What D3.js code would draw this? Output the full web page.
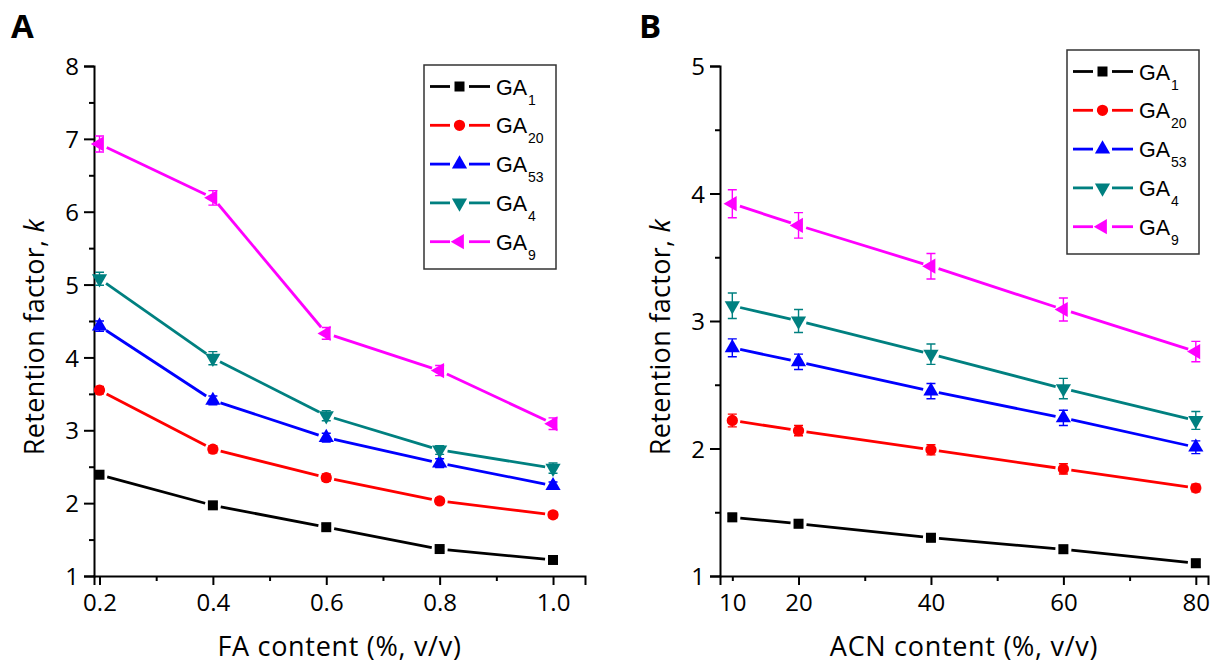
<!DOCTYPE html>
<html>
<head>
<meta charset="utf-8">
<script src="https://cdn.jsdelivr.net/npm/d3@7"></script>
<style>
body { margin: 0; background: #fff; }
svg { display: block; }
</style>
</head>
<body>
<div id="chart"></div>
<script>
// categories
var faContent = [0.2, 0.4, 0.6, 0.8, 1.0]
var acnContent = [10, 20, 40, 60, 80]
var gaSubs = ["1", "20", "53", "4", "9"]
var colors = ["#000000", "#ff0000", "#0000ff", "#008080", "#ff00ff"]
var shapes = ["square", "circle", "up", "down", "left"]

// panel A values (retention factor k vs FA content)
var faGA1 = [2.39, 1.97, 1.67, 1.37, 1.22]
var faGA20 = [3.55, 2.74, 2.35, 2.03, 1.84]
var faGA53 = [4.43, 3.41, 2.90, 2.55, 2.24]
var faGA4 = [5.08, 3.99, 3.20, 2.73, 2.48]
var faGA9 = [6.93, 6.19, 4.33, 3.82, 3.09]
var faErr1 = [0.04, 0.04, 0.04, 0.03, 0.03]
var faErr20 = [0.05, 0.05, 0.05, 0.04, 0.04]
var faErr53 = [0.07, 0.06, 0.06, 0.06, 0.05]
var faErr4 = [0.09, 0.09, 0.07, 0.06, 0.07]
var faErr9 = [0.11, 0.10, 0.08, 0.07, 0.08]

// panel B values (retention factor k vs ACN content)
var acnGA1 = [1.46, 1.41, 1.30, 1.21, 1.10]
var acnGA20 = [2.22, 2.14, 1.99, 1.84, 1.69]
var acnGA53 = [2.79, 2.68, 2.45, 2.24, 2.01]
var acnGA4 = [3.12, 3.00, 2.74, 2.47, 2.22]
var acnGA9 = [3.92, 3.75, 3.43, 3.09, 2.76]
var acnErr1 = [0.03, 0.03, 0.03, 0.03, 0.03]
var acnErr20 = [0.05, 0.04, 0.04, 0.04, 0.03]
var acnErr53 = [0.07, 0.06, 0.06, 0.06, 0.05]
var acnErr4 = [0.10, 0.09, 0.08, 0.08, 0.07]
var acnErr9 = [0.11, 0.10, 0.10, 0.09, 0.08]

// tick labels
var faMajor = [0.2, 0.4, 0.6, 0.8, 1.0]
var faMinor = [0.3, 0.5, 0.7, 0.9]
var faLabels = ["0.2", "0.4", "0.6", "0.8", "1.0"]
var acnMajor = [20, 40, 60, 80]
var acnMinor = [10, 30, 50, 70]
var acnLabels = ["10", "20", "40", "60", "80"]
var kMajorA = [1, 2, 3, 4, 5, 6, 7, 8]
var kMinorA = [1.5, 2.5, 3.5, 4.5, 5.5, 6.5, 7.5]
var kMajorB = [1, 2, 3, 4, 5]
var kMinorB = [1.5, 2.5, 3.5, 4.5]

var width = 1210
var height = 666
var tickFont = "'Open Sans', 'Segoe UI', sans-serif"
var legendFont = "'Liberation Sans', Arial, sans-serif"

var svg = d3.select("#chart").append("svg")
    .attr("width", width)
    .attr("height", height)

function symbolPath(shape) {
    var s = d3.symbol()
    if (shape == "square") return s.type(d3.symbolSquare).size(100)()
    if (shape == "circle") return s.type(d3.symbolCircle).size(100)()
    return s.type(d3.symbolTriangle).size(100)()
}
function symbolRotate(shape) {
    if (shape == "down") return 180
    if (shape == "left") return -90
    return 0
}

function drawMarker(g, shape, color, cx, cy) {
    g.append("path")
        .attr("d", symbolPath(shape))
        .attr("transform", "translate(" + cx + "," + cy + ") rotate(" + symbolRotate(shape) + ")")
        .attr("fill", color)
}

function makePanel(p) {
    var x = d3.scaleLinear().domain(p.xDomain).range([p.left, p.right])
    var y = d3.scaleLinear().domain(p.yDomain).range([p.bottom, p.top])
    var g = svg.append("g")

    // x axis
    var xTicks = p.xMajor.concat(p.xMinor).sort(d3.ascending)
    var xAxis = g.append("g")
        .attr("transform", "translate(0," + p.bottom + ")")
        .call(d3.axisBottom(x).tickValues(xTicks).tickSizeOuter(0).tickSize(9).tickPadding(9)
            .tickFormat(function(d) {
                var i = p.xLabelValues.indexOf(d)
                return i >= 0 ? p.xLabels[i] : ""
            }))
    xAxis.selectAll(".tick line").attr("y2", function(d) { return p.xMajor.indexOf(d) >= 0 ? 9 : 5 })

    // y axis
    var yTicks = p.yMajor.concat(p.yMinor).sort(d3.ascending)
    var yAxis = g.append("g")
        .attr("transform", "translate(" + p.left + ",0)")
        .call(d3.axisLeft(y).tickValues(yTicks).tickSizeOuter(0).tickSize(10).tickPadding(5)
            .tickFormat(function(d) { return p.yMajor.indexOf(d) >= 0 ? d : "" }))
    yAxis.selectAll(".tick line").attr("x2", function(d) { return p.yMajor.indexOf(d) >= 0 ? -10 : -5 })

    g.selectAll(".domain, .tick line").attr("stroke", "#000").attr("stroke-width", 2)
    g.selectAll(".tick text").attr("font-family", tickFont).attr("font-size", 24).attr("fill", "#000")
    yAxis.selectAll(".tick text").attr("dy", "0.36em")

    // titles
    g.append("text")
        .attr("x", (p.left + p.right) / 2)
        .attr("y", 656)
        .attr("text-anchor", "middle")
        .attr("font-family", tickFont)
        .attr("font-size", 27)
        .attr("letter-spacing", 0.7)
        .text(p.xTitle)
    var yt = g.append("text")
        .attr("transform", "translate(" + (p.left - 50) + ",337) rotate(-90)")
        .attr("text-anchor", "middle")
        .attr("font-family", tickFont)
        .attr("font-size", 27)
        .attr("letter-spacing", 0.3)
    yt.append("tspan").text("Retention factor, ")
    yt.append("tspan").attr("font-style", "italic").text("k")

    g.append("text")
        .attr("x", p.letterX)
        .attr("y", 38)
        .attr("font-family", tickFont)
        .attr("font-weight", "bold")
        .attr("font-size", 33)
        .text(p.letter)

    // series
    p.series.forEach(function(vals, si) {
        var color = colors[si]
        var errs = p.errors[si]
        var pts = p.xValues.map(function(d, i) { return [x(d), y(vals[i])] })
        var gap = 8
        for (var i = 0; i < pts.length - 1; i++) {
            var dx = pts[i + 1][0] - pts[i][0]
            var dy = pts[i + 1][1] - pts[i][1]
            var len = Math.sqrt(dx * dx + dy * dy)
            var ux = dx / len, uy = dy / len
            g.append("line")
                .attr("x1", pts[i][0] + ux * gap)
                .attr("y1", pts[i][1] + uy * gap)
                .attr("x2", pts[i + 1][0] - ux * gap)
                .attr("y2", pts[i + 1][1] - uy * gap)
                .attr("stroke", color)
                .attr("stroke-width", 2.8)
        }
        pts.forEach(function(pt, i) {
            var yTop = y(vals[i] + errs[i])
            var yBot = y(vals[i] - errs[i])
            g.append("path")
                .attr("d", "M" + pt[0] + "," + yTop + "V" + yBot +
                    "M" + (pt[0] - 4.5) + "," + yTop + "H" + (pt[0] + 4.5) +
                    "M" + (pt[0] - 4.5) + "," + yBot + "H" + (pt[0] + 4.5))
                .attr("stroke", color)
                .attr("stroke-width", 1.4)
                .attr("fill", "none")
            drawMarker(g, shapes[si], color, pt[0], pt[1])
        })
    })

    // legend
    var lg = g.append("g").attr("transform", "translate(" + p.legendX + "," + p.legendY + ")")
    lg.append("rect")
        .attr("width", 132).attr("height", 204)
        .attr("fill", "#fff").attr("stroke", "#333").attr("stroke-width", 1.5)
    gaSubs.forEach(function(sub, i) {
        var ry = 21.5 + i * 38.8
        lg.append("line").attr("x1", 6).attr("x2", 26).attr("y1", ry).attr("y2", ry)
            .attr("stroke", colors[i]).attr("stroke-width", 2.8)
        lg.append("line").attr("x1", 45).attr("x2", 66).attr("y1", ry).attr("y2", ry)
            .attr("stroke", colors[i]).attr("stroke-width", 2.8)
        drawMarker(lg, shapes[i], colors[i], 35.5, ry)
        var t = lg.append("text")
            .attr("x", 72)
            .attr("y", ry + 8)
            .attr("font-family", legendFont)
            .attr("font-size", 21.5)
        t.append("tspan").text("GA")
        t.append("tspan").attr("font-size", 14).attr("dx", 1).attr("dy", 10).text(sub)
    })
}

makePanel({
    letter: "A", letterX: 11,
    left: 94, right: 585, top: 66, bottom: 576,
    xDomain: [0.1903, 1.0564], yDomain: [1, 8],
    xValues: faContent,
    xMajor: faMajor, xMinor: faMinor, xLabelValues: faMajor, xLabels: faLabels,
    yMajor: kMajorA, yMinor: kMinorA,
    xTitle: "FA content (%, v/v)",
    series: [faGA1, faGA20, faGA53, faGA4, faGA9],
    errors: [faErr1, faErr20, faErr53, faErr4, faErr9],
    legendX: 424, legendY: 65
})

makePanel({
    letter: "B", letterX: 639,
    left: 720, right: 1208, top: 66, bottom: 576,
    xDomain: [8.14, 81.84], yDomain: [1, 5],
    xValues: acnContent,
    xMajor: acnMajor, xMinor: acnMinor, xLabelValues: acnContent, xLabels: acnLabels,
    yMajor: kMajorB, yMinor: kMinorB,
    xTitle: "ACN content (%, v/v)",
    series: [acnGA1, acnGA20, acnGA53, acnGA4, acnGA9],
    errors: [acnErr1, acnErr20, acnErr53, acnErr4, acnErr9],
    legendX: 1067, legendY: 50
})
</script>
</body>
</html>
